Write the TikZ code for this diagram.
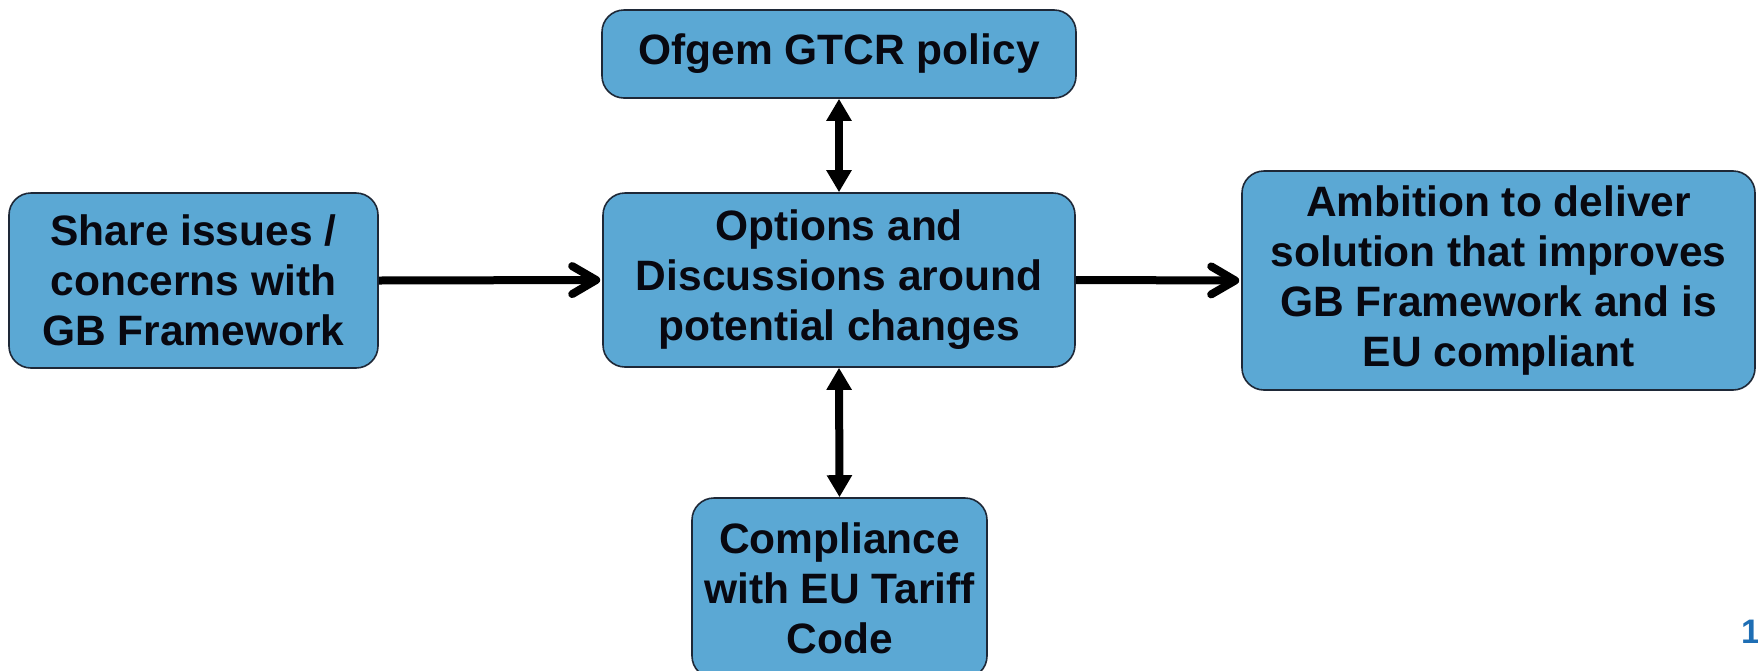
\documentclass[tikz,border=0pt]{standalone}
\usepackage{fontspec}
\setmainfont{Liberation Sans}
\usetikzlibrary{arrows.meta}
\definecolor{boxfill}{RGB}{91,168,212}
\definecolor{boxline}{RGB}{30,40,55}
\definecolor{txt}{RGB}{8,8,16}
\definecolor{pagenum}{RGB}{30,110,180}
\tikzset{
  flowbox/.style={draw=boxline, line width=1.6pt, fill=boxfill, rounded corners=22pt,
    align=center, text=txt, inner sep=0pt,
    font=\fontsize{42.5}{50}\selectfont\bfseries},
  flowarrow/.style={line width=8pt, -{Straight Barb[length=24pt,width=28pt,line width=8pt,round]}, shorten >=2pt},
  linkarrow/.style={line width=8pt, {Triangle[length=22pt,width=24pt]}-{Triangle[length=22pt,width=24pt]}}
}
\begin{document}
\begin{tikzpicture}[x=1pt,y=-1pt]
\useasboundingbox (0,0) rectangle (1758,670);
\fill[white] (0,0) rectangle (1758,670);
\node[flowbox, minimum width=369pt, minimum height=175pt] (left) at (193.5,280.5) {Share issues /\\concerns with\\GB Framework};
\node[flowbox, minimum width=474pt, minimum height=88pt] (top) at (839,54) {Ofgem GTCR policy};
\node[flowbox, minimum width=472pt, minimum height=174pt] (mid) at (839,280) {Options and\\Discussions around\\potential changes};
\node[flowbox, minimum width=513pt, minimum height=219pt] (right) at (1498.5,280.5) {Ambition to deliver\\solution that improves\\GB Framework and is\\EU compliant};
\node[flowbox, minimum width=295pt, minimum height=180pt] (bot) at (839.5,588) {Compliance\\with EU Tariff\\Code};
\node[anchor=west, inner sep=0pt, text=pagenum, font=\fontsize{34}{40}\selectfont\bfseries] (pnum) at (1741,632) {1};
\draw[flowarrow] (left.east) -- (mid.west);
\draw[flowarrow] (mid.east) -- (right.west);
\draw[linkarrow] (top.south) -- (mid.north);
\draw[linkarrow] (mid.south) -- (bot.north);
\end{tikzpicture}
\end{document}
